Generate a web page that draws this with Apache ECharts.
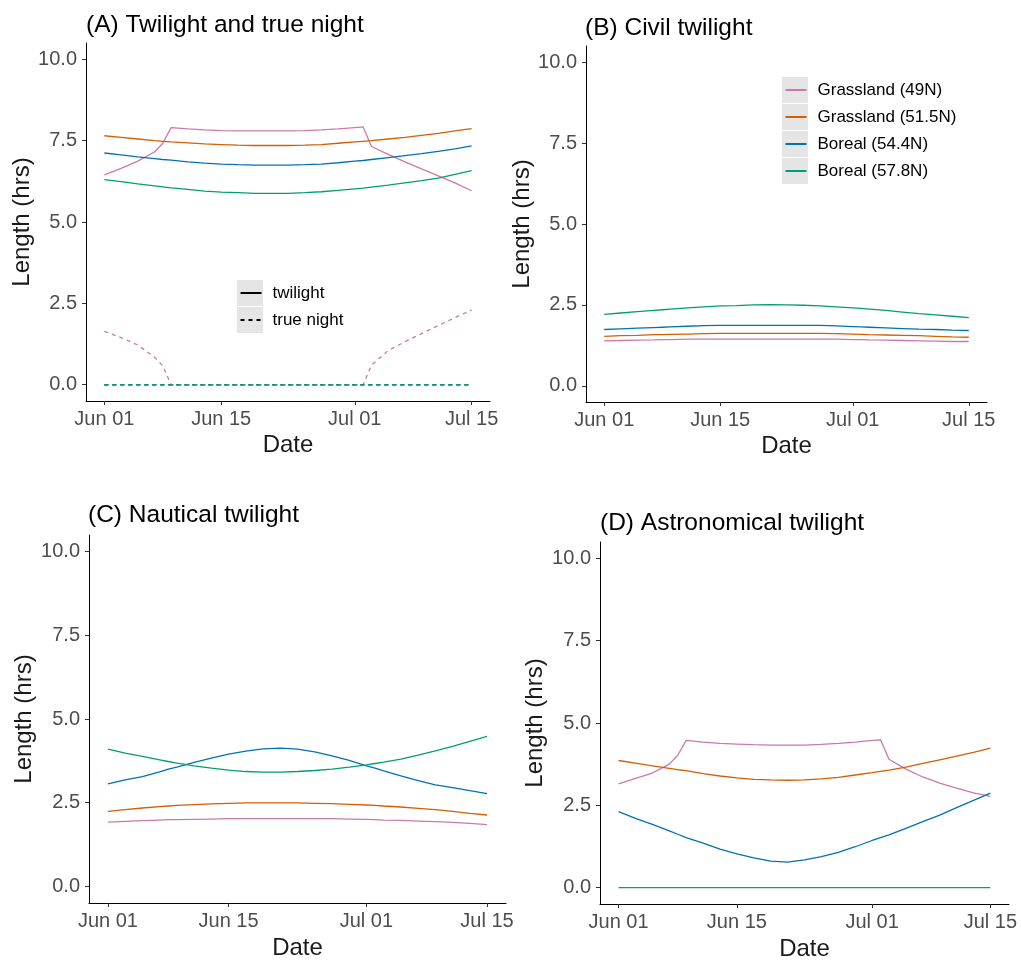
<!DOCTYPE html>
<html>
<head>
<meta charset="utf-8">
<script src="https://cdn.jsdelivr.net/npm/echarts@6/dist/echarts.min.js"></script>
<style>
html,body{margin:0;padding:0;background:#fff;}
#chart{width:1021px;height:962px;}
</style>
</head>
<body>
<div id="chart"></div>
<script>
// ---- data ----
const days = [0,2,4,6,7,8,10,12,14,16,18,20,22,24,26,28,30,31,32,34,36,38,40,42,44]; // days since Jun 01
const tickDays = [0,14,30,44];
const tickLabels = ['Jun 01','Jun 15','Jul 01','Jul 15'];
const yTicks = [0,2.5,5,7.5,10];
const sites = ['Grassland (49N)','Grassland (51.5N)','Boreal (54.4N)','Boreal (57.8N)'];
const siteColors = ['#CC79A7','#D55E00','#0072B2','#009E73'];
const panelTitles = ['(A) Twilight and true night','(B) Civil twilight','(C) Nautical twilight','(D) Astronomical twilight'];

// (A) twilight (solid)
const aTwilight49  = [6.45,6.65,6.87,7.15,7.42,7.9,7.86,7.83,7.81,7.8,7.8,7.8,7.8,7.81,7.83,7.86,7.9,7.92,7.32,7.08,6.85,6.63,6.42,6.2,5.96];
const aTwilight515 = [7.65,7.6,7.55,7.5,7.48,7.46,7.43,7.4,7.38,7.36,7.35,7.35,7.35,7.36,7.38,7.42,7.46,7.48,7.5,7.55,7.6,7.66,7.72,7.8,7.87];
const aTwilight544 = [7.12,7.06,7.0,6.95,6.92,6.9,6.85,6.81,6.78,6.76,6.75,6.75,6.75,6.76,6.78,6.82,6.87,6.89,6.92,6.98,7.04,7.1,7.17,7.25,7.34];
const aTwilight578 = [6.3,6.24,6.17,6.11,6.08,6.05,6.0,5.95,5.92,5.9,5.88,5.88,5.88,5.9,5.93,5.97,6.02,6.04,6.07,6.13,6.2,6.27,6.35,6.46,6.58];
// (A) true night (dashed)
const aNight49  = [1.64,1.45,1.22,0.85,0.58,0,0,0,0,0,0,0,0,0,0,0,0,0,0.6,1.05,1.32,1.57,1.82,2.06,2.3];
const aNight515 = [0,0,0,0,0,0,0,0,0,0,0,0,0,0,0,0,0,0,0,0,0,0,0,0,0];
const aNight544 = [0,0,0,0,0,0,0,0,0,0,0,0,0,0,0,0,0,0,0,0,0,0,0,0,0];
const aNight578 = [0,0,0,0,0,0,0,0,0,0,0,0,0,0,0,0,0,0,0,0,0,0,0,0,0];
// (B) civil twilight
const bCivil49  = [1.39,1.4,1.41,1.42,1.43,1.43,1.44,1.44,1.44,1.44,1.44,1.44,1.44,1.44,1.44,1.44,1.43,1.43,1.42,1.41,1.4,1.39,1.38,1.37,1.37];
const bCivil515 = [1.53,1.55,1.56,1.58,1.58,1.59,1.6,1.61,1.62,1.62,1.62,1.62,1.62,1.62,1.62,1.61,1.6,1.59,1.58,1.57,1.56,1.55,1.53,1.51,1.5];
const bCivil544 = [1.74,1.76,1.78,1.8,1.81,1.82,1.84,1.86,1.87,1.87,1.87,1.87,1.87,1.87,1.87,1.85,1.83,1.82,1.81,1.79,1.77,1.75,1.74,1.72,1.71];
const bCivil578 = [2.21,2.25,2.29,2.33,2.35,2.37,2.41,2.44,2.47,2.48,2.5,2.51,2.5,2.49,2.47,2.44,2.41,2.39,2.37,2.33,2.28,2.23,2.19,2.15,2.11];
// (C) nautical twilight
const cNaut49  = [1.92,1.94,1.96,1.98,1.99,1.99,2.0,2.01,2.02,2.02,2.02,2.02,2.02,2.02,2.02,2.01,2.0,1.99,1.98,1.97,1.95,1.93,1.91,1.88,1.84];
const cNaut515 = [2.24,2.29,2.34,2.38,2.4,2.42,2.44,2.46,2.48,2.49,2.49,2.49,2.49,2.48,2.47,2.45,2.43,2.42,2.4,2.37,2.33,2.29,2.24,2.18,2.13];
const cNaut544 = [3.06,3.18,3.28,3.42,3.5,3.56,3.7,3.83,3.95,4.04,4.11,4.13,4.1,4.02,3.9,3.76,3.6,3.53,3.45,3.3,3.16,3.03,2.95,2.86,2.77];
const cNaut578 = [4.1,3.98,3.88,3.78,3.73,3.68,3.6,3.53,3.47,3.43,3.41,3.41,3.43,3.46,3.5,3.56,3.63,3.67,3.71,3.8,3.92,4.05,4.18,4.33,4.48];
// (D) astronomical twilight
const dAstro49  = [3.15,3.32,3.48,3.75,4.02,4.47,4.42,4.38,4.36,4.34,4.33,4.33,4.33,4.35,4.38,4.42,4.47,4.49,3.9,3.6,3.36,3.17,3.02,2.88,2.77];
const dAstro515 = [3.86,3.78,3.7,3.62,3.58,3.55,3.46,3.39,3.33,3.29,3.27,3.26,3.27,3.3,3.35,3.42,3.49,3.53,3.57,3.66,3.77,3.88,3.99,4.11,4.24];
const dAstro544 = [2.31,2.1,1.92,1.72,1.62,1.52,1.35,1.17,1.02,0.9,0.8,0.77,0.84,0.94,1.07,1.24,1.43,1.52,1.6,1.8,2.0,2.2,2.43,2.65,2.87];
const dAstro578 = [0,0,0,0,0,0,0,0,0,0,0,0,0,0,0,0,0,0,0,0,0,0,0,0,0];

// ---- chart ----
const FONT = "'Liberation Sans', Arial, sans-serif";
const grids = [
  {left: 86,  top: 43,  width: 404, height: 358},
  {left: 586, top: 46,  width: 401, height: 356},
  {left: 89,  top: 535, width: 417, height: 368},
  {left: 600, top: 542, width: 409, height: 362}
];
const titlePos = [{left: 86, top: 13},{left: 585, top: 16},{left: 88, top: 503},{left: 600, top: 511}];
const xNameGap = [32, 32, 33, 33];
const yNameGap = [52, 51, 53, 53];

const xAxes = grids.map((g, i) => ({
  type: 'value', gridIndex: i, min: -2.2, max: 46.2,
  name: 'Date', nameLocation: 'middle', nameGap: xNameGap[i],
  nameTextStyle: {fontFamily: FONT, fontSize: 24, color: '#1a1a1a'},
  splitLine: {show: false},
  axisLine: {show: true, onZero: false, lineStyle: {color: '#000', width: 1}},
  axisTick: {show: true, length: 4, lineStyle: {color: '#333'}, customValues: tickDays},
  axisLabel: {show: true, margin: 8, fontFamily: FONT, fontSize: 20, color: '#4d4d4d',
    customValues: tickDays,
    formatter: v => { const k = tickDays.indexOf(v); return k >= 0 ? tickLabels[k] : ''; }}
}));
const yAxes = grids.map((g, i) => ({
  type: 'value', gridIndex: i, min: -0.5, max: 10.5,
  name: 'Length (hrs)', nameLocation: 'middle', nameGap: yNameGap[i],
  nameTextStyle: {fontFamily: FONT, fontSize: 24, color: '#1a1a1a'},
  splitLine: {show: false},
  axisLine: {show: true, onZero: false, lineStyle: {color: '#000', width: 1}},
  axisTick: {show: true, length: 4, lineStyle: {color: '#333'}, customValues: yTicks},
  axisLabel: {show: true, margin: 9, fontFamily: FONT, fontSize: 20, color: '#4d4d4d',
    customValues: yTicks, formatter: v => v.toFixed(1)}
}));

function mk(name, vals, color, gi, dashed) {
  return {
    type: 'line', name: name, xAxisIndex: gi, yAxisIndex: gi,
    data: days.map((d, k) => [d, vals[k]]),
    symbol: 'none', silent: true, animation: false,
    lineStyle: {color: color, width: 1.3, type: dashed ? [4, 4] : 'solid'},
    itemStyle: {color: color}
  };
}

const panels = [
  [aTwilight49, aTwilight515, aTwilight544, aTwilight578],
  [bCivil49, bCivil515, bCivil544, bCivil578],
  [cNaut49, cNaut515, cNaut544, cNaut578],
  [dAstro49, dAstro515, dAstro544, dAstro578]
];
const aNights = [aNight49, aNight515, aNight544, aNight578];

const series = [];
panels.forEach((p, gi) => {
  p.forEach((vals, si) => series.push(mk(sites[si], vals, siteColors[si], gi, false)));
  if (gi === 0) aNights.forEach((vals, si) => series.push(mk(sites[si], vals, siteColors[si], 0, true)));
});
// legend-only entries for line type in panel A
series.push({type: 'line', name: 'twilight', xAxisIndex: 0, yAxisIndex: 0, data: [], symbol: 'none',
  lineStyle: {color: '#000', width: 1.3, type: 'solid'}, itemStyle: {color: '#000'}});
series.push({type: 'line', name: 'true night', xAxisIndex: 0, yAxisIndex: 0, data: [], symbol: 'none',
  lineStyle: {color: '#000', width: 1.3, type: [4, 4]}, itemStyle: {color: '#000'}});

const keyBg = '#e5e5e5';
const graphics = [];
[280, 307].forEach(y => graphics.push({type: 'rect', left: 237, top: y, shape: {width: 26, height: 26}, style: {fill: keyBg}, z: -1}));
[77, 104, 131, 158].forEach(y => graphics.push({type: 'rect', left: 782, top: y, shape: {width: 26, height: 26}, style: {fill: keyBg}, z: -1}));

const legendCommon = {
  orient: 'vertical', itemWidth: 21, itemHeight: 14, itemGap: 1, padding: 0,
  selectedMode: false,
  itemStyle: {opacity: 0, borderWidth: 0},
  textStyle: {fontFamily: FONT, fontSize: 17, color: '#000', lineHeight: 26, padding: [0, 0, 0, 6]}
};

const option = {
  backgroundColor: '#fff',
  animation: false,
  title: panelTitles.map((t, i) => ({
    text: t, left: titlePos[i].left, top: titlePos[i].top, padding: 0,
    textStyle: {fontFamily: FONT, fontSize: 24.5, fontWeight: 'normal', color: '#000', lineHeight: 24}
  })),
  grid: grids.map(g => Object.assign({containLabel: false}, g)),
  xAxis: xAxes,
  yAxis: yAxes,
  legend: [
    Object.assign({}, legendCommon, {left: 239.5, top: 280, data: ['twilight', 'true night']}),
    Object.assign({}, legendCommon, {left: 784.5, top: 77, data: sites})
  ],
  graphic: graphics,
  series: series
};

const chart = echarts.init(document.getElementById('chart'), null, {renderer: 'canvas'});
chart.setOption(option);
</script>
</body>
</html>
